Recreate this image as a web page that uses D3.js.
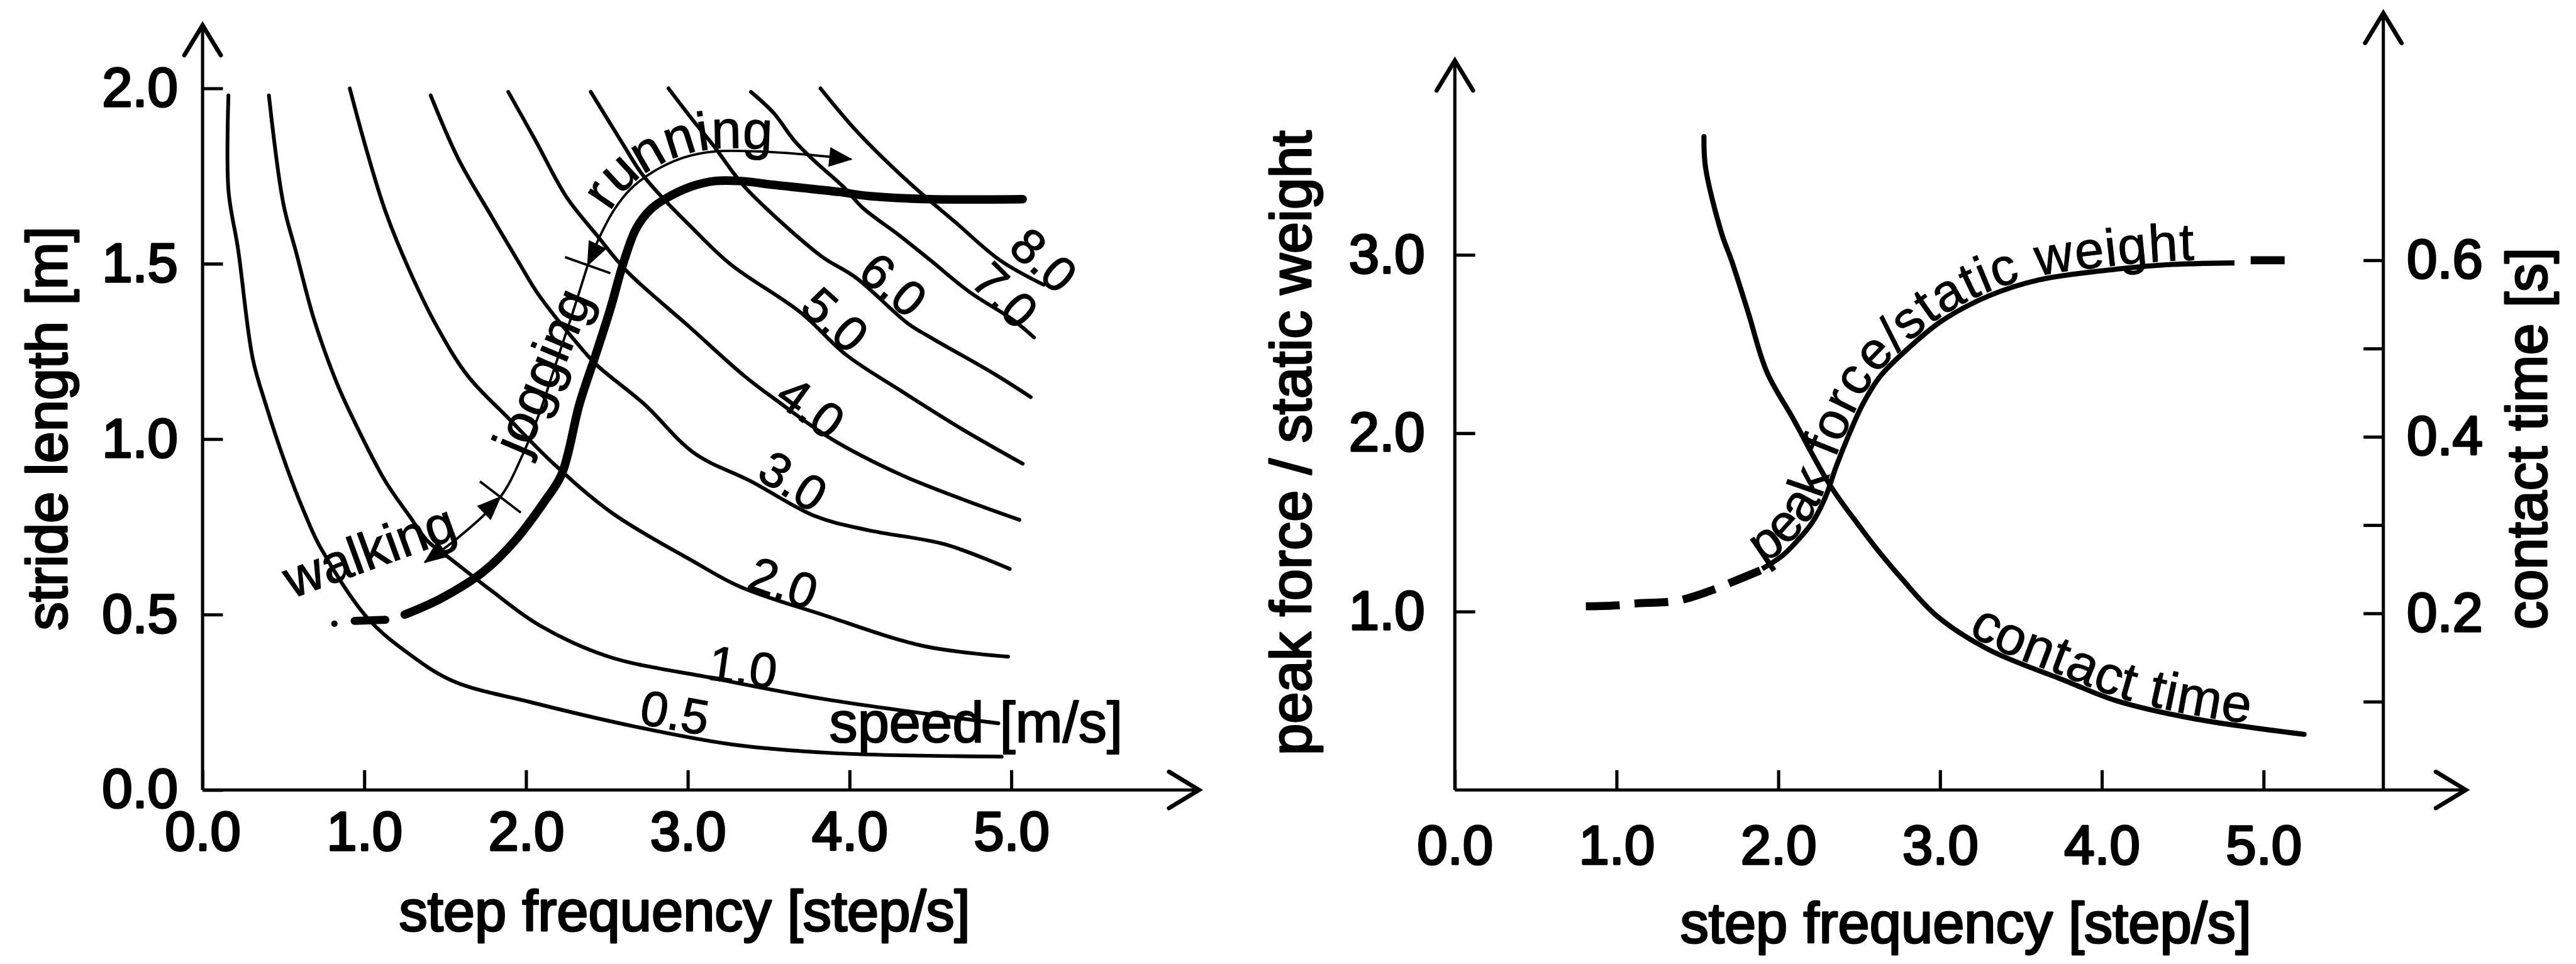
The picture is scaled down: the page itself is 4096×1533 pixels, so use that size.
<!DOCTYPE html>
<html>
<head>
<meta charset="utf-8">
<script src="https://cdn.jsdelivr.net/npm/d3@7"></script>
<style>
  html, body { margin: 0; padding: 0; background: #fff; }
  svg { display: block; }
</style>
</head>
<body>
<svg id="fig" width="4096" height="1533" viewBox="0 0 4809 1800"></svg>
<script>
// ---------- data: left panel (step frequency [step/s] vs stride length [m]) ----------
const freqTicks = [0, 1, 2, 3, 4, 5];
const strideTicks = [0, 0.5, 1, 1.5, 2];

// iso-speed lines, points as [step frequency, stride length]
const iso05 = [[0.16,1.98],[0.16,1.71],[0.22,1.54],[0.31,1.23],[0.39,1.10],[0.52,0.92],[0.63,0.79],[0.73,0.69],[1.02,0.49],[1.27,0.39],[1.55,0.31],[2.03,0.25],[2.68,0.18],[3.27,0.13],[3.90,0.105],[4.94,0.095]];
const iso10 = [[0.41,1.98],[0.50,1.67],[0.58,1.53],[0.69,1.34],[0.83,1.16],[0.96,1.03],[1.13,0.88],[1.28,0.78],[1.39,0.71],[1.53,0.66],[1.78,0.57],[2.08,0.47],[2.51,0.38],[3.14,0.32],[3.83,0.26],[4.92,0.19]];
const iso20 = [[0.91,2.0],[1.01,1.83],[1.13,1.65],[1.28,1.48],[1.45,1.32],[1.64,1.18],[1.89,1.06],[2.17,0.93],[2.53,0.79],[3.04,0.65],[3.32,0.58],[3.83,0.50],[4.46,0.41],[4.98,0.38]];
const iso30 = [[1.41,1.98],[1.58,1.80],[1.78,1.64],[1.96,1.50],[2.08,1.41],[2.34,1.26],[2.44,1.21],[2.73,1.10],[3.04,0.96],[3.39,0.88],[3.79,0.78],[4.12,0.74],[4.59,0.70],[4.99,0.63]];
const iso40 = [[1.89,1.99],[2.06,1.85],[2.25,1.69],[2.44,1.58],[2.62,1.48],[3.01,1.32],[3.35,1.18],[3.55,1.11],[3.89,1.00],[4.31,0.90],[4.69,0.83],[5.05,0.77]];
const iso50 = [[2.40,1.99],[2.60,1.84],[2.71,1.76],[2.84,1.69],[3.01,1.61],[3.26,1.50],[3.70,1.36],[3.98,1.24],[4.31,1.14],[4.69,1.03],[5.07,0.93]];
const iso60 = [[2.88,2.0],[3.03,1.91],[3.17,1.83],[3.28,1.76],[3.35,1.72],[3.55,1.63],[3.83,1.52],[4.04,1.46],[4.36,1.33],[4.50,1.29],[4.88,1.19],[5.12,1.12]];
const iso70 = [[3.39,1.99],[3.53,1.93],[3.66,1.85],[3.79,1.79],[3.96,1.72],[4.08,1.66],[4.31,1.58],[4.50,1.51],[4.74,1.42],[5.01,1.34],[5.14,1.29]];
const iso80 = [[3.82,2.0],[4.02,1.89],[4.21,1.80],[4.42,1.71],[4.65,1.62],[4.93,1.51],[5.20,1.44]];
const isoLines = [iso05, iso10, iso20, iso30, iso40, iso50, iso60, iso70, iso80];

// speed values [m/s] written on the iso lines, and where they sit
const speedNames = ["0.5", "1.0", "2.0", "3.0", "4.0", "5.0", "6.0", "7.0", "8.0"];
const speedLabelAt = [[2.92,0.22],[3.34,0.35],[3.59,0.59],[3.65,0.88],[3.76,1.09],[3.91,1.34],[4.27,1.44],[4.96,1.41],[5.20,1.51]];

// preferred gait: stride length vs step frequency
const gaitLead = [[0.94,0.482],[1.13,0.485]];
const gaitDot = [0.815, 0.474];
const gait = [[1.25,0.50],[1.47,0.545],[1.73,0.62],[1.93,0.71],[2.11,0.82],[2.22,0.90],[2.33,1.10],[2.43,1.24],[2.52,1.37],[2.60,1.50],[2.68,1.60],[2.77,1.655],[2.86,1.685],[3.02,1.72],[3.17,1.736],[3.32,1.736],[3.55,1.724],[3.93,1.705],[4.12,1.693],[4.50,1.684],[5.07,1.684]];

// ranges of the gait modes, drawn beside the gait line
const walkJogGuide = [[1.374,0.649],[1.593,0.724],[1.841,0.835],[1.983,0.960],[2.083,1.075],[2.182,1.212],[2.281,1.350],[2.381,1.496]];
const runGuide = [[2.381,1.496],[2.457,1.579],[2.546,1.655],[2.646,1.713],[2.795,1.765],[2.977,1.803],[3.166,1.820],[3.440,1.820],[3.735,1.811],[4.010,1.798]];
const walkLabelAt = [1.03, 0.682];
const jogLabelAt = [2.10, 1.194];
const speedUnitAt = [3.874, 0.136];

// ---------- data: right panel ----------
const forceTicks = [1, 2, 3];
const contactTicks = [0.1, 0.2, 0.3, 0.4, 0.5, 0.6];
const contactLabelled = [0.2, 0.4, 0.6];

// contact time [s] vs step frequency
const contactTime = [[1.54,0.740],[1.55,0.705],[1.65,0.630],[1.71,0.600],[1.81,0.543],[1.93,0.473],[2.09,0.421],[2.32,0.345],[2.50,0.299],[2.60,0.275],[2.76,0.240],[2.98,0.197],[3.30,0.159],[3.77,0.124],[4.09,0.101],[4.56,0.081],[5.25,0.063]];
// peak force / static weight vs step frequency (dashed where extrapolated)
const peakLow = [[0.81,1.03],[1.01,1.035],[1.11,1.045],[1.32,1.055],[1.42,1.07],[1.62,1.13],[1.70,1.16],[1.90,1.235]];
const peakForce = [[1.90,1.24],[2.02,1.31],[2.11,1.39],[2.21,1.50],[2.29,1.64],[2.36,1.82],[2.44,2.00],[2.52,2.16],[2.63,2.32],[2.82,2.49],[3.01,2.63],[3.30,2.77],[3.61,2.86],[4.09,2.92],[4.40,2.945],[4.82,2.955]];
const peakHigh = [[4.92,2.97],[5.13,2.97]];

// ---------- layout ----------
const FONT = '"Liberation Sans", Arial, Helvetica, sans-serif';
const svg = d3.select("#fig");
svg.append("rect").attr("width", 4809).attr("height", 1800).attr("fill", "#fff");

const xL = d3.scaleLinear().domain([0, 5]).range([378, 1888]);
const yL = d3.scaleLinear().domain([0, 2]).range([1475, 165]);
const xR = d3.scaleLinear().domain([0, 5]).range([2716, 4226]);
const yF = d3.scaleLinear().domain([0, 3]).range([1475, 476]);
const yT = d3.scaleLinear().domain([0, 0.6]).range([1475, 486]);

// axis extents in data units
const leftTop = 2.18, leftEnd = 6.16;
const forceTop = 4.09, rightEnd = 6.25, rightAxisAt = 5.74, contactTop = 0.88;

const AXW = 6;
const fmt = d3.format(".1f");

function finishAxis(g, size) {
  g.attr("font-family", null).attr("font-size", null);
  g.select(".domain").remove();
  g.selectAll(".tick line").attr("stroke", "#000").attr("stroke-width", AXW);
  g.selectAll(".tick text")
    .attr("font-family", FONT).attr("font-size", size)
    .attr("fill", "#000").attr("stroke", "#000").attr("stroke-width", 4)
    .attr("stroke-linejoin", "round");
}
function axisLine(x1, y1, x2, y2) {
  svg.append("line").attr("x1", x1).attr("y1", y1).attr("x2", x2).attr("y2", y2)
    .attr("stroke", "#000").attr("stroke-width", AXW);
}
function chevron(x, y, dir) {
  const a = 56, b = 34;
  const pts = dir === "up" ? [[x - b, y + a], [x, y], [x + b, y + a]]
                           : [[x - a, y - b], [x, y], [x - a, y + b]];
  svg.append("path").attr("d", d3.line()(pts)).attr("fill", "none")
    .attr("stroke", "#000").attr("stroke-width", 8)
    .attr("stroke-linecap", "round").attr("stroke-linejoin", "miter");
}
function title(text, x, y, rot) {
  svg.append("text").attr("transform", `translate(${x},${y}) rotate(${rot})`)
    .attr("text-anchor", "middle").attr("font-family", FONT).attr("font-size", 106)
    .attr("fill", "#000").attr("stroke", "#000").attr("stroke-width", 3.6)
    .attr("stroke-linejoin", "round")
    .text(text);
}

// ---------- left panel axes ----------
axisLine(xL(0), yL(0), xL(0), yL(leftTop));
chevron(xL(0), yL(leftTop), "up");
axisLine(xL(0), yL(0), xL(leftEnd), yL(0));
chevron(xL(leftEnd), yL(0), "right");

svg.append("g").attr("transform", `translate(${xL(0)},0)`)
  .call(d3.axisLeft(yL).tickValues(strideTicks).tickFormat(fmt)
        .tickSizeInner(-38).tickSizeOuter(0).tickPadding(46))
  .call(g => finishAxis(g, 102));
svg.append("g").attr("transform", `translate(0,${yL(0)})`)
  .call(d3.axisBottom(xL).tickValues(freqTicks).tickFormat(fmt)
        .tickSizeInner(-37).tickSizeOuter(0).tickPadding(40))
  .call(g => finishAxis(g, 102));

title("stride length [m]", 124, 800, -90);
title("step frequency [step/s]", 1278, 1738, 0);

// ---------- left panel curves ----------
const lineL = d3.line().x(d => xL(d[0])).y(d => yL(d[1])).curve(d3.curveCatmullRom.alpha(0.5));

svg.append("g").selectAll("path").data(isoLines).join("path")
  .attr("d", lineL).attr("fill", "none").attr("stroke", "#000")
  .attr("stroke-width", 7).attr("stroke-linecap", "round");

const speedRot = [10, 8, 19, 32, 36, 42, 40, 45, 42];
svg.append("g").selectAll("text").data(speedNames).join("text")
  .attr("transform", (d, i) => `translate(${xL(speedLabelAt[i][0])},${yL(speedLabelAt[i][1])}) rotate(${speedRot[i]})`)
  .attr("text-anchor", "middle").attr("dominant-baseline", "central")
  .attr("font-family", FONT).attr("font-size", 92).attr("fill", "#000")
  .attr("stroke", "#000").attr("stroke-width", 1.5)
  .text(d => d);

// gait line
svg.append("path").attr("d", lineL(gait)).attr("fill", "none").attr("stroke", "#000")
  .attr("stroke-width", 16).attr("stroke-linecap", "round").attr("stroke-linejoin", "round");
svg.append("path").attr("d", lineL(gaitLead)).attr("fill", "none").attr("stroke", "#000")
  .attr("stroke-width", 15).attr("stroke-linecap", "round");
svg.append("circle").attr("cx", xL(gaitDot[0])).attr("cy", yL(gaitDot[1])).attr("r", 6).attr("fill", "#000");

// walking / jogging / running ranges
svg.append("path").attr("d", lineL(walkJogGuide)).attr("fill", "none")
  .attr("stroke", "#000").attr("stroke-width", 4.5);
svg.append("path").attr("id", "runGuide").attr("d", lineL(runGuide)).attr("fill", "none")
  .attr("stroke", "#000").attr("stroke-width", 4.5);

const P = d => [xL(d[0]), yL(d[1])];
function head(tip, from, len, half) {
  const dx = tip[0] - from[0], dy = tip[1] - from[1], n = Math.hypot(dx, dy);
  const ux = dx / n, uy = dy / n;
  const bx = tip[0] - ux * len, by = tip[1] - uy * len;
  svg.append("path")
    .attr("d", `M${tip[0]},${tip[1]}L${bx - uy * half},${by + ux * half}L${bx + uy * half},${by - ux * half}Z`)
    .attr("fill", "#000").attr("stroke", "#000").attr("stroke-width", 2);
}
function crossTick(at, before, after, half) {
  const dx = after[0] - before[0], dy = after[1] - before[1], n = Math.hypot(dx, dy);
  const px = -dy / n, py = dx / n;
  svg.append("line")
    .attr("x1", at[0] - px * half).attr("y1", at[1] - py * half)
    .attr("x2", at[0] + px * half).attr("y2", at[1] + py * half)
    .attr("stroke", "#000").attr("stroke-width", 4.5);
}
head(P(walkJogGuide[0]), P(walkJogGuide[1]), 42, 17);
head(P(walkJogGuide[2]), P(walkJogGuide[1]), 42, 17);
head(P(runGuide[0]), P(runGuide[2]), 42, 17);
head(P(runGuide[runGuide.length - 1]), P(runGuide[runGuide.length - 2]), 40, 17);
crossTick(P(walkJogGuide[2]), P(walkJogGuide[1]), P(walkJogGuide[3]), 48);
crossTick(P(walkJogGuide[7]), P(walkJogGuide[6]), P(runGuide[1]), 45);

svg.append("text")
  .attr("transform", `translate(${xL(walkLabelAt[0])},${yL(walkLabelAt[1])}) rotate(-20)`)
  .attr("text-anchor", "middle").attr("dominant-baseline", "central")
  .attr("font-family", FONT).attr("font-size", 100).attr("fill", "#000")
  .attr("stroke", "#000").attr("stroke-width", 1.5).text("walking");
svg.append("text")
  .attr("transform", `translate(${xL(jogLabelAt[0])},${yL(jogLabelAt[1])}) rotate(-67)`)
  .attr("text-anchor", "middle").attr("dominant-baseline", "central")
  .attr("font-family", FONT).attr("font-size", 100).attr("fill", "#000")
  .attr("stroke", "#000").attr("stroke-width", 1.5).text("jogging");

const runLen = svg.select("#runGuide").node().getTotalLength();
svg.append("text").attr("font-family", FONT).attr("font-size", 100).attr("fill", "#000").attr("dy", -5)
  .attr("stroke", "#000").attr("stroke-width", 1.5)
  .append("textPath").attr("href", "#runGuide")
  .attr("startOffset", runLen * 0.18).attr("textLength", runLen * 0.57).attr("lengthAdjust", "spacing")
  .text("running");

svg.append("text").attr("x", xL(speedUnitAt[0])).attr("y", yL(speedUnitAt[1]))
  .attr("font-family", FONT).attr("font-size", 106).attr("fill", "#000")
  .attr("stroke", "#000").attr("stroke-width", 2.5).attr("stroke-linejoin", "round").text("speed [m/s]");

// ---------- right panel axes ----------
axisLine(xR(0), yF(0), xR(0), yF(forceTop));
chevron(xR(0), yF(forceTop), "up");
axisLine(xR(0), yF(0), xR(rightEnd), yF(0));
chevron(xR(rightEnd), yF(0), "right");
axisLine(xR(rightAxisAt), yT(0), xR(rightAxisAt), yT(contactTop));
chevron(xR(rightAxisAt), yT(contactTop), "up");

svg.append("g").attr("transform", `translate(${xR(0)},0)`)
  .call(d3.axisLeft(yF).tickValues(forceTicks).tickFormat(fmt)
        .tickSizeInner(-38).tickSizeOuter(0).tickPadding(56))
  .call(g => finishAxis(g, 102));
svg.append("g").attr("transform", `translate(0,${yF(0)})`)
  .call(d3.axisBottom(xR).tickValues(freqTicks).tickFormat(fmt)
        .tickSizeInner(-37).tickSizeOuter(0).tickPadding(66))
  .call(g => finishAxis(g, 102));
svg.append("g").attr("transform", `translate(${xR(rightAxisAt)},0)`)
  .call(d3.axisRight(yT).tickValues(contactTicks)
        .tickFormat(d => contactLabelled.some(v => Math.abs(v - d) < 1e-9) ? fmt(d) : "")
        .tickSizeInner(-37).tickSizeOuter(0).tickPadding(44))
  .call(g => finishAxis(g, 102));

title("peak force / static weight", 2447, 827, -90);
title("contact time [s]", 4754, 819, -90);
title("step frequency [step/s]", 3670, 1760, 0);

// ---------- right panel curves ----------
const lineF = d3.line().x(d => xR(d[0])).y(d => yF(d[1])).curve(d3.curveCatmullRom.alpha(0.5));
const lineT = d3.line().x(d => xR(d[0])).y(d => yT(d[1])).curve(d3.curveCatmullRom.alpha(0.5));

svg.append("path").attr("id", "contactCurve").attr("d", lineT(contactTime)).attr("fill", "none")
  .attr("stroke", "#000").attr("stroke-width", 9.5).attr("stroke-linecap", "round");
svg.append("path").attr("id", "peakCurve").attr("d", lineF(peakForce)).attr("fill", "none")
  .attr("stroke", "#000").attr("stroke-width", 9.5).attr("stroke-linecap", "butt");
svg.append("path").attr("d", lineF(peakLow)).attr("fill", "none")
  .attr("stroke", "#000").attr("stroke-width", 15).attr("stroke-dasharray", "63,28");
svg.append("path").attr("d", lineF(peakHigh)).attr("fill", "none")
  .attr("stroke", "#000").attr("stroke-width", 15);

const peakLen = svg.select("#peakCurve").node().getTotalLength();
svg.append("text").attr("font-family", FONT).attr("font-size", 98).attr("fill", "#000").attr("dy", -7)
  .attr("stroke", "#000").attr("stroke-width", 1.2)
  .append("textPath").attr("href", "#peakCurve")
  .attr("startOffset", peakLen * 0.005).attr("textLength", peakLen * 0.93).attr("lengthAdjust", "spacing")
  .text("peak force/static weight");

const contactLen = svg.select("#contactCurve").node().getTotalLength();
svg.append("text").attr("font-family", FONT).attr("font-size", 100).attr("fill", "#000").attr("dy", -7)
  .attr("stroke", "#000").attr("stroke-width", 1.2)
  .append("textPath").attr("href", "#contactCurve")
  .attr("startOffset", contactLen * 0.62).attr("textLength", contactLen * 0.32).attr("lengthAdjust", "spacing")
  .text("contact time");
</script>
</body>
</html>
